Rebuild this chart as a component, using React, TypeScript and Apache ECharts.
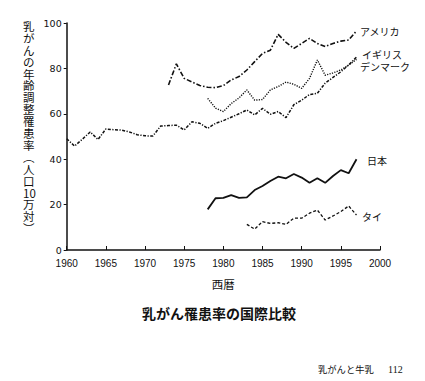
import React, { useEffect, useRef } from "react";
import * as echarts from "echarts";

const usaYears = [1973, 1974, 1975, 1976, 1977, 1978, 1979, 1980, 1981, 1982, 1983, 1984, 1985, 1986, 1987, 1988, 1989, 1990, 1991, 1992, 1993, 1994, 1995, 1996, 1997];
const usaValues = [72.7, 82, 75.6, 74, 72.5, 71.7, 71.5, 72.4, 74.9, 76.4, 79.3, 83, 86.6, 88, 95, 91.5, 88.8, 91, 93.2, 91, 89.6, 91, 92, 92.5, 96.5];

const ukYears = [1978, 1979, 1980, 1981, 1982, 1983, 1984, 1985, 1986, 1987, 1988, 1989, 1990, 1991, 1992, 1993, 1994, 1995, 1996, 1997];
const ukValues = [66.8, 62.5, 61, 64.5, 67, 70.5, 66, 66.3, 70.5, 72, 74, 73, 71.2, 75.6, 83.7, 77, 78, 79.3, 81.5, 84];

const denmarkYears = [1960, 1961, 1962, 1963, 1964, 1965, 1966, 1967, 1968, 1969, 1970, 1971, 1972, 1973, 1974, 1975, 1976, 1977, 1978, 1979, 1980, 1981, 1982, 1983, 1984, 1985, 1986, 1987, 1988, 1989, 1990, 1991, 1992, 1993, 1994, 1995, 1996, 1997];
const denmarkValues = [49, 45.8, 48.8, 52, 48.7, 53.3, 53, 52.8, 52, 50.8, 50.3, 50.2, 54.6, 54.8, 55, 52.9, 56.5, 55.8, 53.6, 55.8, 57, 58.5, 60, 61.7, 59.5, 62.4, 59.8, 61, 58.3, 64, 66, 68.5, 69, 73.5, 76, 78.5, 81.5, 85];

const japanYears = [1978, 1979, 1980, 1981, 1982, 1983, 1984, 1985, 1986, 1987, 1988, 1989, 1990, 1991, 1992, 1993, 1994, 1995, 1996, 1997];
const japanValues = [17.9, 22.8, 23, 24.2, 23, 23.2, 26.4, 28.2, 30.4, 32.3, 31.6, 33.5, 31.9, 29.6, 31.6, 29.6, 32.6, 35.2, 33.8, 40];

const thaiYears = [1983, 1984, 1985, 1986, 1987, 1988, 1989, 1990, 1991, 1992, 1993, 1994, 1995, 1996, 1997];
const thaiValues = [11.3, 9.2, 12.5, 11.7, 12, 11.3, 14, 14, 16.2, 17.6, 13.2, 15, 16.9, 19.4, 15.4];

const yTitleChars = ["乳", "が", "ん", "の", "年", "齢", "調", "整", "罹", "患", "率", "︵", "人", "口", "10", "万", "対", "︶"];
const xAxisName = "西暦";
const chartTitle = "乳がん罹患率の国際比較";
const footerText = "乳がんと牛乳";
const pageNumber = "112";

const JP = "'Noto Sans CJK JP', 'Noto Sans', sans-serif";

function pairs(xs: number[], ys: number[]) {
  return xs.map((x, i) => [x, ys[i]]);
}

export default function App() {
  const ref = useRef<HTMLDivElement>(null);
  useEffect(() => {
    if (!ref.current) return;
    const chart = echarts.init(ref.current, null, { renderer: "svg" });
    const mk = (
      name: string,
      xs: number[],
      ys: number[],
      type: any,
      width: number,
      offset: number[]
    ) => ({
      name,
      type: "line",
      data: pairs(xs, ys),
      symbol: "none",
      lineStyle: { color: "#111", width, type },
      endLabel: {
        show: true,
        formatter: name,
        distance: 0,
        offset,
        fontSize: 10,
        lineHeight: 10,
        fontFamily: JP,
        color: "#111",
      },
    });
    chart.setOption({
      animation: false,
      backgroundColor: "#fff",
      grid: { left: 66.7, right: 45, top: 23, bottom: 131, containLabel: false },
      xAxis: {
        type: "value",
        min: 1960,
        max: 2000,
        interval: 5,
        name: xAxisName,
        nameLocation: "middle",
        nameGap: 28,
        nameTextStyle: { fontSize: 11.5, fontFamily: JP, color: "#111" },
        axisLine: { lineStyle: { color: "#111", width: 1.5 } },
        axisTick: { inside: true, length: 4, lineStyle: { color: "#111" } },
        axisLabel: {
          margin: 8,
          fontSize: 10,
          formatter: (v: number) => String(v),
          fontFamily: "'Liberation Sans Narrow', 'Liberation Sans', sans-serif",
          color: "#111",
        },
        splitLine: { show: false },
      },
      yAxis: {
        type: "value",
        min: 0,
        max: 100,
        interval: 20,
        axisLine: { show: true, lineStyle: { color: "#111", width: 1.5 } },
        axisTick: { show: true, length: 3, lineStyle: { color: "#111" } },
        axisLabel: {
          margin: 5,
          fontSize: 9.5,
          fontFamily: "'DejaVu Sans', sans-serif",
          color: "#111",
        },
        splitLine: { show: false },
      },
      series: [
        mk("アメリカ", usaYears, usaValues, [5, 2, 1.5, 2], 1.6, [3.6, 1]),
        mk("イギリス", ukYears, ukValues, [1.2, 1.3], 1.4, [5.6, -4.5]),
        mk("デンマーク", denmarkYears, denmarkValues, [3, 1.5, 1.2, 1.5], 1.5, [3.6, 9.5]),
        mk("日本", japanYears, japanValues, "solid", 1.8, [10.6, 1]),
        mk("タイ", thaiYears, thaiValues, [3, 2], 1.3, [5.5, 1]),
      ],
      graphic: [
        {
          type: "text",
          left: 23,
          top: 20,
          style: {
            text: yTitleChars.join("\n"),
            fontSize: 11.5,
            lineHeight: 11.9,
            fontFamily: JP,
            fill: "#111",
            align: "center",
          },
        },
        {
          type: "text",
          x: 219,
          y: 313,
          style: {
            text: chartTitle,
            fontSize: 14,
            fontWeight: "bold",
            fontFamily: JP,
            fill: "#111",
            align: "center",
            verticalAlign: "middle",
          },
        },
        {
          type: "text",
          x: 318,
          y: 369,
          style: {
            text: footerText,
            fontSize: 9.3,
            fontFamily: JP,
            fill: "#111",
            align: "left",
            verticalAlign: "middle",
          },
        },
        {
          type: "text",
          x: 388,
          y: 369,
          style: {
            text: pageNumber,
            fontSize: 10,
            fontFamily: "'Liberation Serif', serif",
            fill: "#111",
            align: "left",
            verticalAlign: "middle",
          },
        },
      ],
    });
    return () => chart.dispose();
  }, []);
  return (
    <div
      ref={ref}
      style={{ position: "absolute", left: 0, top: 0, width: 425, height: 381, background: "#fff" }}
    />
  );
}
